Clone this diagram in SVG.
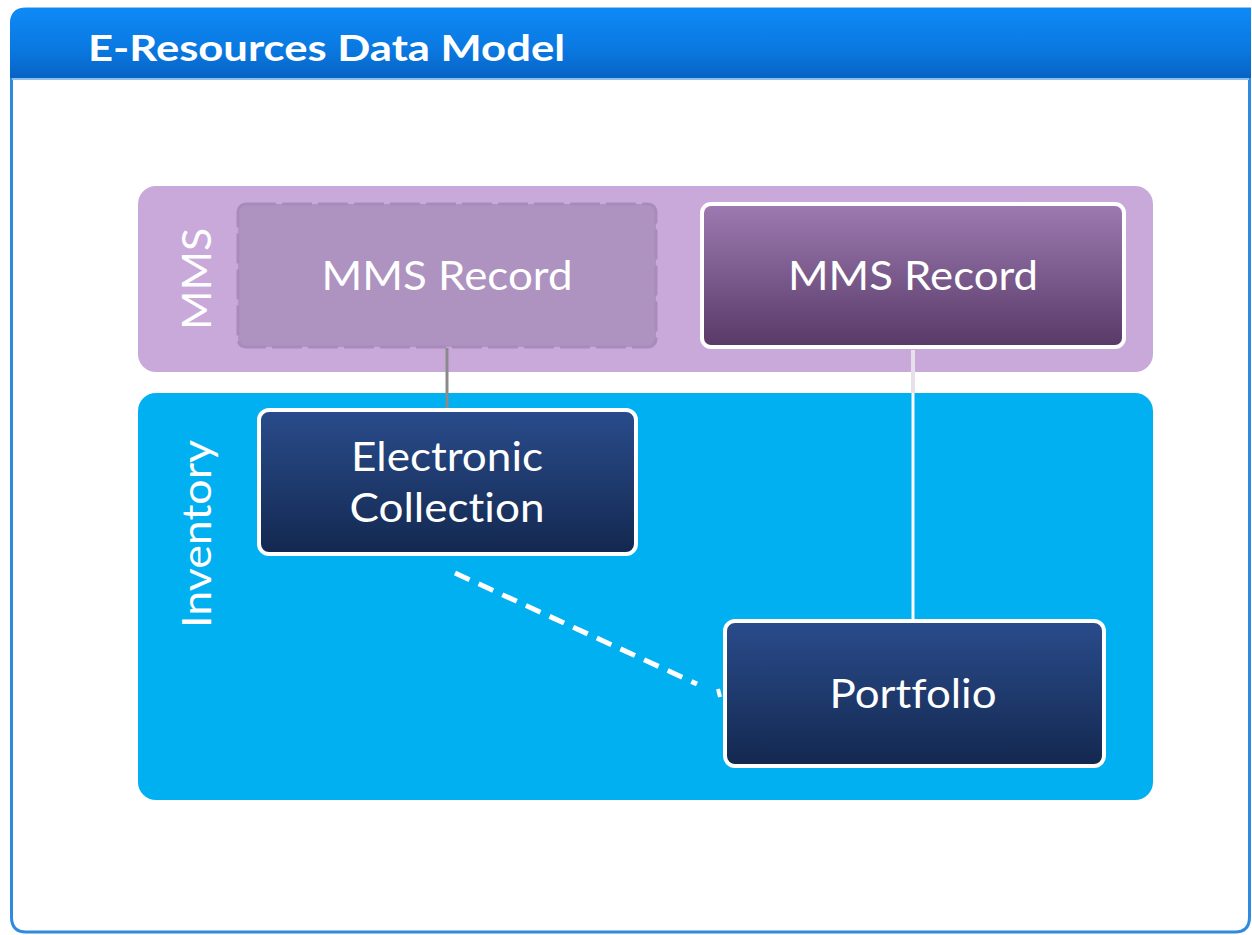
<svg xmlns="http://www.w3.org/2000/svg" width="1252" height="935" viewBox="0 0 1252 935">
  <defs>
    <linearGradient id="hdr" x1="0" y1="0" x2="0" y2="1">
      <stop offset="0" stop-color="#0d8af7"/>
      <stop offset="0.6" stop-color="#0a78e0"/>
      <stop offset="1" stop-color="#0863c4"/>
    </linearGradient>
    <linearGradient id="purp" x1="0" y1="0" x2="0" y2="1">
      <stop offset="0" stop-color="#9d7bb2"/>
      <stop offset="1" stop-color="#583967"/>
    </linearGradient>
    <linearGradient id="navy" x1="0" y1="0" x2="0" y2="1">
      <stop offset="0" stop-color="#2a4c8c"/>
      <stop offset="1" stop-color="#13284f"/>
    </linearGradient>
    <style>
      .lbl { font-family: Lato, "Open Sans", "Liberation Sans", sans-serif; fill: #ffffff; font-variant-ligatures: none; font-feature-settings: "liga" 0; }
      .node { stroke: #ffffff; stroke-width: 4; }
    </style>
  </defs>

  <rect width="1252" height="935" fill="#ffffff"/>

  <g id="frame">
    <path d="M11.5,917 L11.5,24 Q11.5,9 26,9 L1249.5,9 L1249.5,917 Q1249.5,932 1235,932 L26,932 Q11.5,932 11.5,917 Z" fill="#ffffff" stroke="#2f8ae0" stroke-width="3"/>
    <path d="M10,78 L10,24 Q10,8 26,8 L1251,8 L1251,78 Z" fill="url(#hdr)"/>
    <line x1="12" y1="79" x2="1249" y2="79" stroke="#8cbfee" stroke-width="2"/>
    <text class="lbl" x="88" y="61" font-size="37" font-weight="bold" textLength="477" lengthAdjust="spacingAndGlyphs">E-Resources Data Model</text>
  </g>

  <g id="mms-band">
    <rect x="138" y="186" width="1015" height="186" rx="18" fill="#c9a9da"/>
    <text class="lbl" transform="translate(211,279) rotate(-90)" text-anchor="middle" font-size="41" textLength="102" lengthAdjust="spacingAndGlyphs" fill="#f6effa">MMS</text>
  </g>

  <g id="inventory-band">
    <rect x="138" y="393" width="1015" height="407" rx="18" fill="#00b0f0"/>
    <text class="lbl" transform="translate(211,534) rotate(-90)" text-anchor="middle" font-size="41" textLength="188" lengthAdjust="spacingAndGlyphs" fill="#e8f6fd">Inventory</text>
  </g>

  <g id="connectors">
    <line x1="447" y1="348" x2="447" y2="408" stroke="#8a8a8a" stroke-width="3"/>
    <line x1="913" y1="350" x2="913" y2="393" stroke="#e6e0ea" stroke-width="4"/>
    <line x1="913" y1="393" x2="913" y2="619" stroke="#ffffff" stroke-width="3"/>
    <line x1="455" y1="573" x2="697" y2="684" stroke="#ffffff" stroke-width="5" stroke-dasharray="16,10"/>
    <line x1="718" y1="689" x2="720" y2="697" stroke="#ffffff" stroke-width="4"/>
  </g>

  <g id="mms-record-ghost">
    <rect x="238" y="204" width="418" height="143" rx="8" fill="#ae92c0" stroke="#a98bbb" stroke-width="3" stroke-dasharray="30,6"/>
    <text class="lbl" x="447" y="290" text-anchor="middle" font-size="41" textLength="251" lengthAdjust="spacingAndGlyphs" fill="#e6d9ee">MMS Record</text>
  </g>

  <g id="mms-record">
    <rect class="node" x="702" y="204" width="422" height="143" rx="9" fill="url(#purp)"/>
    <text class="lbl" x="913" y="290" text-anchor="middle" font-size="41" textLength="250" lengthAdjust="spacingAndGlyphs">MMS Record</text>
  </g>

  <g id="electronic-collection">
    <rect class="node" x="259" y="410" width="377" height="144" rx="10" fill="url(#navy)"/>
    <text class="lbl" x="447" y="471" text-anchor="middle" font-size="41" textLength="192" lengthAdjust="spacingAndGlyphs">Electronic</text>
    <text class="lbl" x="447" y="522" text-anchor="middle" font-size="41" textLength="195" lengthAdjust="spacingAndGlyphs">Collection</text>
  </g>

  <g id="portfolio">
    <rect class="node" x="725" y="621" width="379" height="145" rx="10" fill="url(#navy)"/>
    <text class="lbl" x="913" y="708" text-anchor="middle" font-size="41" textLength="167" lengthAdjust="spacingAndGlyphs">Portfolio</text>
  </g>
</svg>
